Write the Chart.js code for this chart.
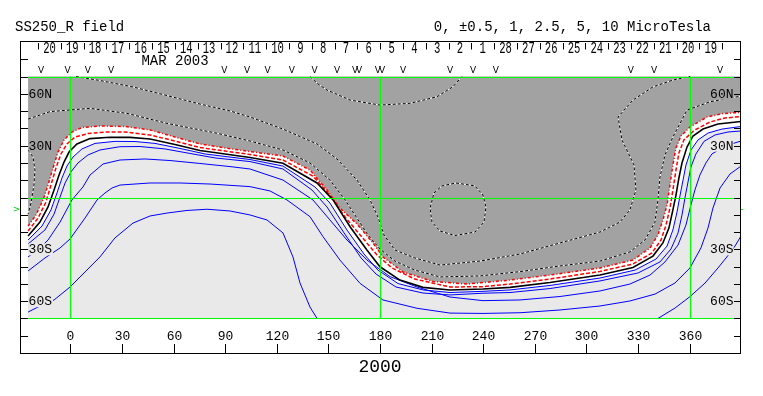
<!DOCTYPE html>
<html><head><meta charset="utf-8">
<script src="https://cdn.jsdelivr.net/npm/chart.js@4.4.0/dist/chart.umd.min.js"></script>
<style>html,body{margin:0;padding:0;background:#fff;}#wrap{width:763px;height:396px;}</style>
</head><body><div id="wrap"><canvas id="c" width="763" height="396"></canvas></div>
<script>
// ---- map extent (Carrington longitude, latitude-like tick units *10) ----
const mapLon = [-24.6, 389.9];
const mapLat = [-70, 70];
const greenLon = [0, 180, 360];
const greenLat = [70, 0, -70];
const bAngle = -6.9;

// ---- tick labels ----
const xTickVals = [0,30,60,90,120,150,180,210,240,270,300,330,360];
const yTickVals = [-80,-70,-60,-50,-40,-30,-20,-10,0,10,20,30,40,50,60,70,80];
const latLabelVals = [60, 30, -30, -60];
const latLabelText = ['60N', '30N', '30S', '60S'];
const dayLabels = ['20','19','18','17','16','15','14','13','12','11','10','9','8','7','6','5','4','3','2','1','28','27','26','25','24','23','22','21','20','19'];
const dayStartLon = -18.8, dayStepLon = 13.26;
const obsLon = [-17.1,-1.6,10.1,23.6,89.5,102.7,114.7,128.8,142.0,155.0,165.5,167.8,178.8,181.2,193.4,220.7,234.1,247.4,325.9,339.3,377.7];

// ---- contour lines [lon, lat] ----
const redOuter = [[-24.6,-16.5],[-20.0,-10.1],[-15.9,-1.4],[-13.0,7.2],[-10.1,17.1],[-7.2,26.3],[-3.7,33.3],[0.9,37.9],[6.7,40.5],[17.2,41.4],[31.7,41.1],[46.3,39.1],[60.8,35.0],[75.3,31.0],[89.9,28.7],[104.4,26.6],[123.6,24.0],[139.3,15.9],[149.2,4.3],[156.7,-6.1],[166.6,-15.3],[175.9,-26.3],[181.7,-34.4],[193.4,-43.1],[210.8,-48.6],[230.6,-50.1],[255.6,-47.8],[278.8,-44.9],[307.9,-40.8],[327.1,-36.2],[337.0,-29.2],[341.6,-21.7],[344.5,-13.0],[346.9,-4.3],[348.6,7.2],[350.3,18.8],[352.1,28.7],[355.0,35.6],[360.2,40.8],[370.1,46.6],[379.4,48.6],[389.9,49.3]];
const redInner = [[-24.6,-19.4],[-18.8,-11.9],[-14.2,-2.6],[-11.3,7.2],[-8.4,17.1],[-5.5,25.2],[-2.0,31.0],[2.7,35.0],[10.2,37.0],[20.1,37.9],[31.7,37.9],[46.3,36.2],[60.8,32.7],[75.3,28.9],[89.9,26.9],[104.4,24.9],[123.6,21.7],[141.0,12.4],[150.9,1.4],[159.7,-11.3],[169.5,-22.9],[178.3,-33.3],[187.0,-40.8],[200.3,-47.2],[220.7,-51.8],[239.9,-51.6],[255.6,-50.1],[278.8,-47.2],[307.9,-42.8],[327.1,-38.5],[338.1,-32.1],[343.4,-24.6],[346.3,-15.9],[348.6,-6.1],[350.3,4.3],[352.1,15.9],[353.8,25.8],[356.7,33.3],[362.6,38.8],[371.9,43.7],[380.6,46.0],[389.9,46.9]];
const neutral = [[-24.6,-22.3],[-17.7,-14.2],[-13.0,-5.5],[-9.5,4.3],[-6.6,13.0],[-3.7,20.5],[-0.8,26.3],[3.8,31.0],[11.4,34.1],[23.0,34.9],[34.7,34.8],[46.3,33.9],[60.8,30.7],[75.3,27.2],[89.9,25.2],[104.4,23.2],[123.6,19.8],[143.4,8.4],[152.7,-1.4],[162.6,-16.9],[172.4,-30.4],[180.0,-40.1],[191.6,-47.8],[205.0,-52.0],[220.7,-53.5],[239.9,-53.0],[255.6,-52.0],[278.8,-49.2],[307.9,-44.9],[327.1,-40.5],[338.7,-33.9],[344.5,-26.3],[348.0,-17.7],[350.3,-7.2],[352.1,1.4],[353.8,11.3],[355.6,20.0],[358.5,29.2],[362.0,35.6],[367.8,39.6],[376.5,42.5],[389.9,44.0]];
const pos1 = [[-24.6,-24.6],[-16.5,-16.5],[-11.3,-7.2],[-7.8,2.6],[-4.9,11.3],[-2.0,18.2],[1.5,23.4],[6.7,28.1],[14.3,31.3],[25.9,32.5],[37.6,32.4],[49.2,31.3],[63.7,28.4],[78.3,25.2],[92.8,23.4],[104.4,22.0],[123.6,18.2],[142.2,6.1],[150.9,-3.2],[160.8,-18.8],[170.7,-32.7],[178.8,-42.0],[190.5,-49.8],[205.0,-53.5],[220.7,-55.0],[239.9,-54.3],[255.6,-53.5],[278.8,-50.9],[307.9,-46.6],[328.3,-42.0],[340.5,-35.6],[346.9,-28.1],[350.3,-18.8],[352.7,-8.4],[354.4,0.9],[356.2,10.1],[357.9,18.8],[360.8,27.5],[364.9,33.3],[370.7,37.3],[378.8,39.6],[389.9,41.1]];
const pos2 = [[-24.6,-26.9],[-14.8,-18.8],[-9.5,-9.6],[-6.0,0.3],[-3.1,8.4],[0.3,14.8],[4.4,20.0],[10.2,24.6],[17.2,27.5],[28.8,29.4],[40.5,29.5],[55.0,28.1],[69.5,25.5],[84.1,22.9],[95.7,21.7],[104.4,20.8],[123.6,16.5],[140.5,4.3],[149.2,-5.5],[159.1,-20.5],[169.0,-35.0],[177.7,-44.3],[189.3,-51.8],[205.0,-55.3],[220.7,-56.4],[239.9,-55.4],[255.6,-55.0],[278.8,-52.7],[307.9,-48.3],[330.0,-43.7],[342.8,-37.3],[349.2,-29.8],[353.3,-20.5],[355.6,-10.1],[357.3,-0.3],[359.1,9.0],[360.8,17.7],[363.7,25.2],[368.4,32.5],[374.8,36.2],[382.3,37.9],[389.9,38.5]];
const pos3 = [[-24.6,-34.4],[-17.7,-29.2],[-13.0,-24.6],[-6.0,-14.2],[0.9,-1.4],[7.3,6.1],[11.4,13.0],[19.0,19.4],[28.8,21.7],[43.4,22.3],[57.9,21.4],[75.3,19.7],[92.8,17.9],[104.4,16.5],[123.6,10.1],[141.0,-1.4],[150.9,-13.0],[160.8,-24.6],[172.4,-36.2],[185.8,-45.8],[201.5,-51.8],[220.7,-57.6],[239.9,-59.7],[261.4,-59.3],[284.7,-57.3],[307.9,-54.1],[325.3,-50.1],[337.0,-44.9],[345.7,-37.3],[353.3,-27.5],[357.9,-15.9],[360.8,-4.3],[363.1,4.3],[366.0,13.0],[369.5,20.0],[373.0,25.2],[380.6,29.8],[389.9,32.7]];
const pos4 = [[-24.6,-42.5],[-14.8,-35.0],[-6.0,-29.2],[-0.2,-24.0],[8.5,-11.9],[15.5,-1.4],[20.1,2.6],[24.2,5.5],[28.8,7.2],[46.3,8.4],[63.7,8.4],[81.2,7.8],[104.4,6.3],[116.0,3.8],[125.9,-1.4],[139.3,-11.1],[146.9,-22.7],[156.7,-36.2],[168.4,-49.7],[181.7,-59.3],[201.5,-64.1],[220.7,-66.9],[239.9,-67.1],[261.4,-66.7],[284.7,-65.1],[307.9,-62.8],[325.3,-59.9],[339.9,-55.9],[351.5,-49.5],[360.2,-40.8],[366.6,-29.2],[370.7,-17.7],[373.6,-6.1],[377.7,5.5],[383.5,13.6],[389.9,18.2]];
const pos5West = [[-24.6,-66.3],[-17.7,-62.8],[-9.5,-59.3],[-0.2,-51.8],[8.5,-43.1],[17.2,-34.4],[25.9,-23.4],[36.4,-14.8],[46.3,-10.7],[56.2,-9.0],[67.8,-7.5],[79.4,-6.8],[92.8,-7.8],[104.4,-10.1],[114.3,-13.0],[123.6,-20.5],[129.4,-34.4],[133.5,-49.5],[139.3,-63.4],[143.4,-70.0]];
const pos5East = [[341.6,-70.0],[351.5,-64.0],[360.2,-57.4],[369.0,-49.5],[376.5,-40.8],[381.7,-34.4],[386.4,-28.1],[389.9,-22.3]];
const neg1 = [[-24.6,45.4],[-11.9,49.7],[11.4,51.6],[32.9,48.7],[56.2,42.9],[85.2,37.2],[104.4,32.7],[123.6,27.5],[139.3,20.0],[150.9,10.1],[159.7,-1.4],[166.6,-11.9],[173.0,-21.7],[180.0,-29.8],[188.7,-36.8],[200.3,-42.0],[214.9,-46.0],[238.1,-45.4],[261.4,-42.9],[284.7,-39.6],[307.9,-36.8],[325.3,-31.5],[334.1,-24.6],[339.9,-14.2],[341.6,-1.4],[342.8,11.9],[345.7,24.6],[350.3,35.0],[358.5,50.6],[371.9,55.4],[389.9,58.7]];
const neg2 = [[3.3,70.0],[17.2,67.7],[36.4,64.0],[56.2,59.0],[75.3,54.1],[92.8,50.1],[104.4,46.6],[123.6,39.6],[143.4,31.0],[155.0,22.3],[166.6,10.1],[174.2,-1.4],[178.8,-11.3],[182.3,-21.7],[188.7,-30.4],[200.3,-35.0],[214.9,-39.1],[238.1,-36.8],[261.4,-32.7],[284.7,-26.3],[307.9,-20.0],[319.5,-14.2],[325.3,-7.2],[328.8,4.3],[327.7,18.8],[320.7,33.3],[318.4,46.6],[327.1,56.4],[338.7,64.0],[350.3,68.0],[360.2,70.0]];
const neg3 = [[139.3,70.0],[144.0,65.7],[149.2,62.2],[162.6,56.4],[180.0,53.5],[197.4,54.5],[213.1,58.3],[222.4,64.1],[227.7,70.0]];
const negOval = [[224.2,8.4],[235.2,6.7],[239.9,1.4],[241.6,-5.5],[240.5,-14.2],[235.2,-20.0],[223.6,-22.0],[214.9,-19.4],[210.2,-14.2],[209.1,-6.1],[211.4,2.6],[216.0,6.7],[224.2,8.4]];
const negWest = [[-24.6,27.5],[-21.7,23.4],[-20.6,15.9],[-21.2,7.2],[-22.9,-3.2],[-24.6,-9.6]];

// ---- styles ----
const lightFill = '#e9e9e9', darkFill = '#a2a2a2', whiteFill = '#ffffff';
const P = a => a.map(([x, y]) => ({x, y}));
const datasets = [];
function addArea(pts, color, order) {
  datasets.push({data: P(pts), showLine: true, borderWidth: 0, borderColor: 'rgba(0,0,0,0)', backgroundColor: color, fill: 'shape', pointRadius: 0, order});
}
function addLine(pts, color, width, dash, order) {
  datasets.push({data: P(pts), showLine: true, borderColor: color, borderWidth: width, borderDash: dash || [], pointRadius: 0, fill: false, tension: 0, order});
}
const topCorners = [[mapLon[1], mapLat[1]], [mapLon[0], mapLat[1]]];
addArea([[mapLon[0], mapLat[0]], [mapLon[1], mapLat[0]], [mapLon[1], mapLat[1]], [mapLon[0], mapLat[1]]], lightFill, 100);
addArea(pos1.concat(topCorners), whiteFill, 99);
addArea(redOuter.concat(topCorners), darkFill, 98);
[neg1, neg2, neg3, negOval, negWest].forEach(l => { addLine(l, '#ffffff', 1, [], 61); addLine(l, '#000000', 1, [3, 2], 60); });
[pos1, pos2, pos3, pos4, pos5West, pos5East].forEach(l => addLine(l, '#0000ff', 1, [], 50));
addLine(redOuter, '#ff0000', 1.5, [3, 2, 1, 2], 45);
addLine(redInner, '#ff0000', 1.5, [4, 2], 44);
addLine(neutral, '#000000', 1.6, [], 40);

function seg(ctx, x1, y1, x2, y2) { ctx.beginPath(); ctx.moveTo(x1, y1); ctx.lineTo(x2, y2); ctx.stroke(); }

const deco = {
  id: 'deco',
  afterDatasetsDraw(chart) {
    const {ctx, scales: {x, y}} = chart;
    const L = x.getPixelForValue(mapLon[0]), R = x.getPixelForValue(mapLon[1]);
    const T = y.getPixelForValue(mapLat[1]), B = y.getPixelForValue(mapLat[0]);
    ctx.save();
    ctx.strokeStyle = '#00ff00'; ctx.lineWidth = 1.2;
    greenLon.forEach(v => { const px = Math.round(x.getPixelForValue(v)) + 0.5; seg(ctx, px, T, px, B); });
    greenLat.forEach(v => { const py = Math.round(y.getPixelForValue(v)) + 0.5; seg(ctx, L, py, R, py); });
    ctx.restore();
  },
  afterDraw(chart) {
    const {ctx, chartArea: a, scales: {x, y}} = chart;
    const X = v => x.getPixelForValue(v), Y = v => y.getPixelForValue(v);
    const mono = '"Liberation Mono", "DejaVu Sans Mono", monospace';
    ctx.save();
    ctx.lineWidth = 1; ctx.strokeStyle = '#000'; ctx.fillStyle = '#000';
    // latitude labels with knock-out background
    ctx.font = '13px ' + mono; ctx.textBaseline = 'middle';
    latLabelVals.forEach((v, i) => {
      const t = latLabelText[i], w = ctx.measureText(t).width, py = Y(v);
      const lx = X(mapLon[0]) + 0.5;
      ctx.fillStyle = v > 0 ? darkFill : lightFill;
      ctx.fillRect(lx, py - 6, w + 1, 12);
      ctx.fillStyle = '#000'; ctx.textAlign = 'left'; ctx.fillText(t, lx, py + 0.5);
      const rx = a.right - 7.5;
      ctx.fillStyle = v === 60 ? darkFill : lightFill;
      ctx.fillRect(rx - w - 1, py - 6, w + 1, 12);
      ctx.fillStyle = '#000'; ctx.textAlign = 'right'; ctx.fillText(t, rx, py + 0.5);
    });
    // frame
    ctx.strokeRect(a.left + 0.5, a.top - 0.5, a.right - a.left - 1, a.bottom - a.top + 1);
    // y ticks both sides
    yTickVals.forEach(v => {
      const py = Math.round(Y(v)) + 0.5;
      seg(ctx, a.left, py, X(mapLon[0]), py);
      seg(ctx, a.right - 7, py, a.right, py);
    });
    // bottom ticks & labels
    ctx.textAlign = 'center'; ctx.textBaseline = 'middle'; ctx.font = '13px ' + mono;
    xTickVals.forEach(v => {
      const px = Math.round(X(v)) + 0.5;
      seg(ctx, px, a.bottom - 9, px, a.bottom);
      ctx.fillText(String(v), px, a.bottom - 16);
    });
    // top: Carrington day ticks and day numbers
    for (let k = 0; k <= dayLabels.length; k++) {
      const px = Math.round(X(dayStartLon + k * dayStepLon)) + 0.5;
      seg(ctx, px, a.top + 1, px, a.top + 7.5);
    }
    ctx.font = '16px ' + mono;
    dayLabels.forEach((t, k) => {
      const cx = X(dayStartLon + (k + 0.5) * dayStepLon);
      ctx.save(); ctx.translate(cx, a.top + 6.5); ctx.scale(0.66, 1); ctx.fillText(t, 0, 0); ctx.restore();
    });
    ctx.font = '14px ' + mono;
    ctx.fillText('MAR 2003', 175, a.top + 19.5);
    // observation markers
    ctx.font = '9px "DejaVu Sans", sans-serif';
    obsLon.forEach(v => ctx.fillText('V', X(v), Y(mapLat[1]) - 5.5));
    // titles
    ctx.font = '14px ' + mono; ctx.textAlign = 'left';
    ctx.fillText('SS250_R field', 15, 27);
    ctx.textAlign = 'right';
    ctx.fillText('0, \u00b10.5, 1, 2.5, 5, 10 MicroTesla', 711, 27);
    ctx.textAlign = 'center'; ctx.font = '18px ' + mono;
    ctx.fillText('2000', X(180), a.bottom + 14);
    // B0 marker
    ctx.fillStyle = '#00cc00'; ctx.font = '9px "DejaVu Sans", sans-serif';
    ctx.fillText('>', 16.5, Y(bAngle));
    ctx.strokeStyle = '#00ff00';
    seg(ctx, a.right, Math.round(Y(bAngle)) + 0.5, a.right + 2, Math.round(Y(bAngle)) + 0.5);
    ctx.restore();
  }
};

new Chart(document.getElementById('c'), {
  type: 'scatter',
  data: {datasets},
  options: {
    responsive: false, animation: false, devicePixelRatio: 1,
    layout: {padding: {left: 20, right: 22, top: 42, bottom: 43}},
    plugins: {legend: {display: false}, tooltip: {enabled: false}},
    scales: {
      x: {type: 'linear', min: -29.3, max: 389.9, display: false},
      y: {type: 'linear', min: -90, max: 90, display: false}
    },
    elements: {point: {radius: 0}}
  },
  plugins: [deco]
});
</script></body></html>
